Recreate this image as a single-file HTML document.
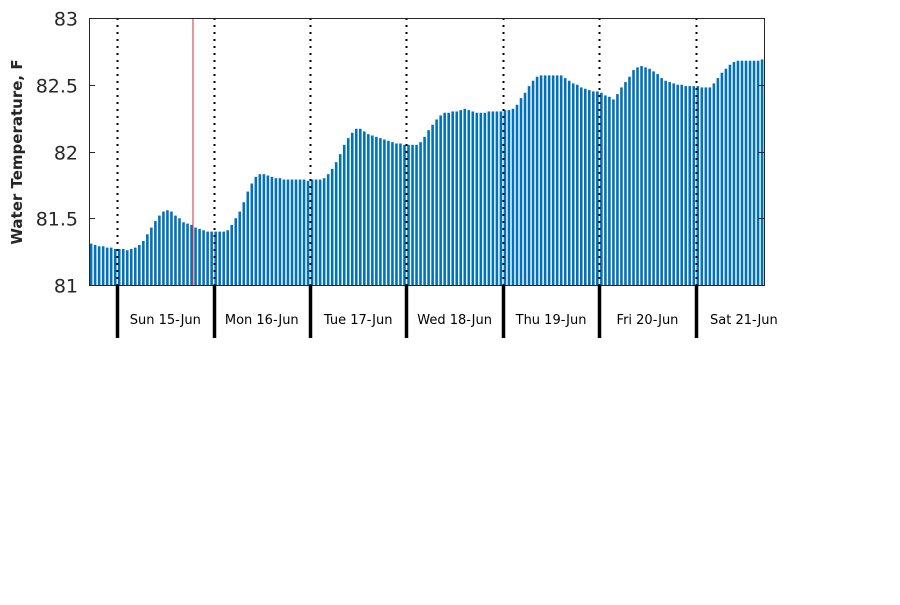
<!DOCTYPE html>
<html><head><meta charset="utf-8"><style>
body{margin:0;background:#fff;}
svg text{font-family:"DejaVu Sans","Liberation Sans",sans-serif;}
</style></head><body>
<svg id="chart" width="900" height="600">
<g id="bars"></g>
<g id="grid"></g>
<rect x="89.5" y="18.5" width="675" height="267" fill="none" stroke="#262626" stroke-width="1"/>
<g id="yaxis"></g>
<g id="xaxis"></g>
<text transform="translate(22,152) rotate(-90)" text-anchor="middle" font-size="15" font-weight="bold" fill="#262626">Water Temperature, F</text>
</svg>
<script>
const startHourOffset = 7; // hours before first day boundary
const dayLabels = ["Sun 15-Jun","Mon 16-Jun","Tue 17-Jun","Wed 18-Jun","Thu 19-Jun","Fri 20-Jun","Sat 21-Jun"];
const yTicks = [81,81.5,82,82.5,83];
const yTickLabels = ["81","81.5","82","82.5","83"];
const markerHour = 19; // red marker position in hours after first day boundary
const temps = [
81.31,81.30,81.29,81.29,81.28,81.28,81.27,
81.27,81.27,81.26,81.27,81.28,81.30,81.33,81.38,81.43,81.48,81.52,81.55,81.56,81.55,81.52,81.50,81.47,81.46,81.45,81.43,81.42,81.41,81.40,81.40,
81.40,81.40,81.40,81.41,81.45,81.50,81.55,81.62,81.70,81.76,81.81,81.83,81.83,81.82,81.81,81.80,81.80,81.79,81.79,81.79,81.79,81.79,81.79,81.78,
81.79,81.79,81.79,81.80,81.83,81.87,81.92,81.98,82.05,82.10,82.14,82.17,82.17,82.15,82.13,82.12,82.11,82.10,82.09,82.08,82.07,82.06,82.06,82.05,
82.05,82.05,82.05,82.07,82.11,82.16,82.20,82.24,82.27,82.29,82.29,82.30,82.30,82.31,82.32,82.31,82.30,82.29,82.29,82.29,82.30,82.30,82.30,82.30,
82.31,82.31,82.32,82.35,82.40,82.44,82.49,82.53,82.56,82.57,82.57,82.57,82.57,82.57,82.57,82.55,82.53,82.51,82.50,82.48,82.47,82.46,82.45,82.45,
82.44,82.42,82.41,82.39,82.43,82.48,82.52,82.56,82.61,82.63,82.64,82.63,82.62,82.60,82.58,82.55,82.53,82.52,82.51,82.50,82.50,82.49,82.49,82.49,
82.49,82.48,82.48,82.48,82.51,82.55,82.59,82.62,82.65,82.67,82.68,82.68,82.68,82.68,82.68,82.68,82.69
];
const NS="http://www.w3.org/2000/svg";
const X0=89,X1=764,Y0=285,Y1=18,ymin=81,ymax=83,totalHours=168;
const hx=h=>X0+h*(X1-X0)/totalHours;
const yv=v=>Y0-(v-ymin)/(ymax-ymin)*(Y0-Y1);
function mk(tag,attrs,parent){const e=document.createElementNS(NS,tag);for(const k in attrs)e.setAttribute(k,attrs[k]);parent.appendChild(e);return e;}
const bars=document.getElementById('bars');
temps.forEach((v,i)=>{
 const x=hx(i)+0.8;
 const r=mk('rect',{x:x,y:yv(v),width:2.6,height:Y0-yv(v),fill:'#0072BD'},bars);
 
 
});
const grid=document.getElementById('grid'),xa=document.getElementById('xaxis');
dayLabels.forEach((lab,d)=>{
 const x=Math.round(hx(startHourOffset+d*24))+0.5;
 const l=mk('line',{x1:x,x2:x,y1:Y1,y2:Y0,stroke:'#000','stroke-width':2,'stroke-dasharray':'2,5'},grid);
 
 
 const t=mk('line',{x1:x,x2:x,y1:Y0,y2:338,stroke:'#000','stroke-width':3.5},xa);
 
 
 const tx=mk('text',{x:hx(startHourOffset+d*24+12),y:324,'text-anchor':'middle','font-size':13,fill:'#000'},xa);
 tx.textContent=lab;
 
 
});
const m=mk('line',{x1:hx(startHourOffset+markerHour)-0.5,x2:hx(startHourOffset+markerHour)-0.5,y1:Y1,y2:Y0,stroke:'#e03030','stroke-width':1},grid);


const ya=document.getElementById('yaxis');
yTicks.forEach((v,i)=>{
 const y=Math.round(yv(v))+0.5;
 const t=mk('line',{x1:X0,x2:X0+6,y1:y,y2:y,stroke:'#262626'},ya);
 
 
 const t2=mk('line',{x1:X1-6,x2:X1+0.5,y1:y,y2:y,stroke:'#262626'},ya);
 
 
 const tx=mk('text',{x:78,y:y+7,'text-anchor':'end','font-size':19,fill:'#262626'},ya);
 tx.textContent=yTickLabels[i];
 
 
});
</script>
</body></html>
